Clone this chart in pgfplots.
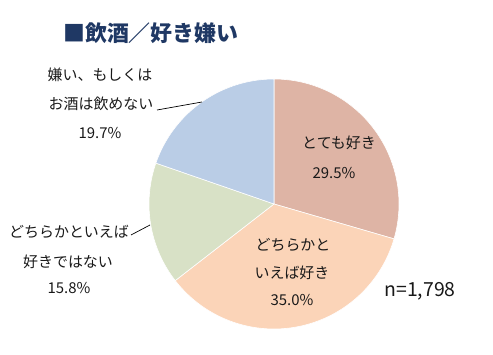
\documentclass[border=0pt]{standalone}
\usepackage{fontspec}
\setmainfont{Noto Sans CJK JP}
\usepackage{pgfplots}
\pgfplotsset{compat=1.18}
\definecolor{cA}{RGB}{222,180,165}
\definecolor{cB}{RGB}{251,212,184}
\definecolor{cC}{RGB}{216,225,198}
\definecolor{cD}{RGB}{186,205,230}
\definecolor{navy}{RGB}{31,56,100}
\tikzset{lbl/.style={font=\fontsize{15}{17}\selectfont, text=black!90}}
\begin{document}%
\begin{tikzpicture}
% shares in percent, clockwise from 12 o'clock
\def\pA{29.5}\def\pB{35.0}\def\pC{15.8}\def\pD{19.7}
\pgfmathsetmacro{\aA}{90}
\pgfmathsetmacro{\aB}{\aA-3.6*\pA}
\pgfmathsetmacro{\aC}{\aB-3.6*\pB}
\pgfmathsetmacro{\aD}{\aC-3.6*\pC}
\pgfmathsetmacro{\aE}{\aD-3.6*\pD}
\begin{axis}[hide axis, scale only axis, width=493bp, height=355bp,
  xmin=0, xmax=493, ymin=0, ymax=355, clip=false]
\path (rel axis cs:0,0) rectangle (rel axis cs:1,1);
\addplot[fill=cA, draw=white, line width=0.6pt, domain=\aB:\aA, samples=80, variable=\t] ({274+125*cos(t)},{151+125*sin(t)}) -- (axis cs:274,151) -- cycle;
\addplot[fill=cB, draw=white, line width=0.6pt, domain=\aC:\aB, samples=80, variable=\t] ({274+125*cos(t)},{151+125*sin(t)}) -- (axis cs:274,151) -- cycle;
\addplot[fill=cC, draw=white, line width=0.6pt, domain=\aD:\aC, samples=80, variable=\t] ({274+125*cos(t)},{151+125*sin(t)}) -- (axis cs:274,151) -- cycle;
\addplot[fill=cD, draw=white, line width=0.6pt, domain=\aE:\aD, samples=80, variable=\t] ({274+125*cos(t)},{151+125*sin(t)}) -- (axis cs:274,151) -- cycle;
% leader lines
\addplot[black, line width=0.7pt, no marks] coordinates {(157,245) (202,253)};
\addplot[black, line width=0.7pt, no marks] coordinates {(131,120) (150,130)};
% title
\node[anchor=west, text=navy, font=\fontsize{22}{24}\selectfont\bfseries, inner sep=0pt] at (axis cs:63,322) {■飲酒／好き嫌い};
% labels
\node[lbl] at (axis cs:100,280) {嫌い、もしくは};
\node[lbl] at (axis cs:101,251) {お酒は飲めない};
\node[lbl] at (axis cs:100,222) {19.7\%};
\node[lbl] at (axis cs:69,123) {どちらかといえば};
\node[lbl] at (axis cs:68,93) {好きではない};
\node[lbl] at (axis cs:69,67) {15.8\%};
\node[lbl] at (axis cs:339,212) {とても好き};
\node[lbl] at (axis cs:334,182) {29.5\%};
\node[lbl] at (axis cs:293,110) {どちらかと};
\node[lbl] at (axis cs:292,82) {いえば好き};
\node[lbl] at (axis cs:292,55) {35.0\%};
\node[lbl, font=\fontsize{19.5}{21}\selectfont] at (axis cs:420,64) {n=1,798};
\end{axis}
\end{tikzpicture}%
\end{document}
